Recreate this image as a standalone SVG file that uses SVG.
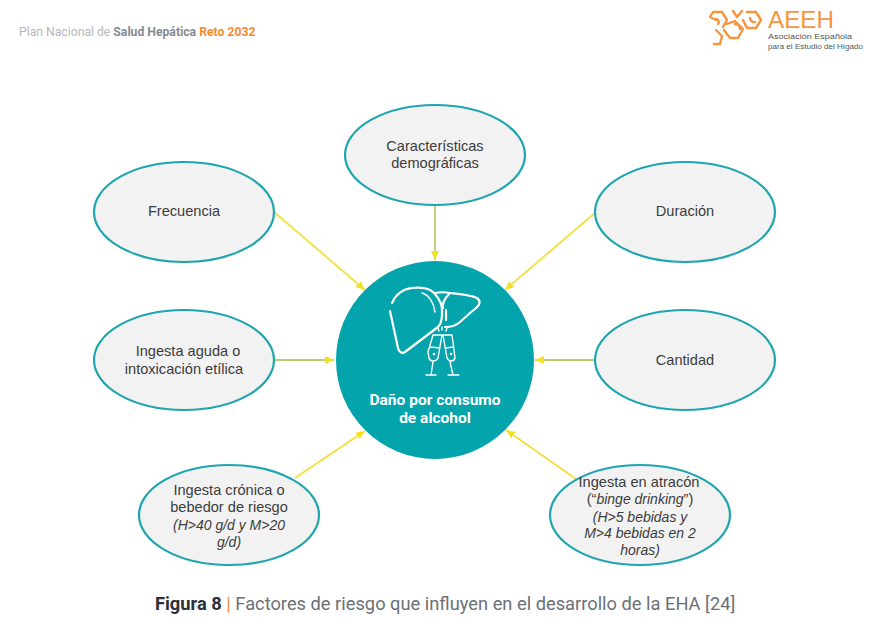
<svg xmlns="http://www.w3.org/2000/svg" width="886" height="618" viewBox="0 0 886 618">
<style>
.n{fill:#f2f2f2;stroke:#1fa5ae;stroke-width:2.2}
.t{font:14.6px "Liberation Sans",Arial,sans-serif;fill:#3c3c3c;text-anchor:middle}
.i{font-style:italic;font-size:14px}
.c line{stroke:#f1e03c;stroke-width:1.8;marker-end:url(#a)}
.c line.g{stroke:#b9cf6a}
.w{fill:none;stroke:#fff;stroke-width:2.2;stroke-linecap:round;stroke-linejoin:round}
.w2{fill:none;stroke:#fff;stroke-width:1.4;stroke-linecap:round;stroke-linejoin:round}
.o{fill:none;stroke:#f7953f;stroke-width:2.4;stroke-linecap:round;stroke-linejoin:round}
.h{font-family:Roboto,"Liberation Sans",sans-serif;font-size:12.2px}
.m{font-family:"Liberation Sans",sans-serif;font-size:7.5px;fill:#555}
.d{font-family:Roboto,"Liberation Sans",sans-serif;font-size:15.5px;font-weight:700;fill:#fff;text-anchor:middle}
</style>
<defs><marker id="a" markerUnits="userSpaceOnUse" markerWidth="10" markerHeight="9" refX="9" refY="4" orient="auto"><path d="M0 0L9 4L0 8z" fill="#f4e021"/></marker></defs>
<rect width="886" height="618" fill="#fff"/>
<g id="header"><text x="19" y="35.5" class="h" fill="#b4b8bd">Plan Nacional de <tspan font-weight="700" fill="#858b94">Salud Hepática</tspan> <tspan font-weight="700" fill="#f58a2e">Reto 2032</tspan></text></g>
<g id="logo">
<path class="o" d="M716 20L710 17L713 12L722 12L727 20L723 27M733 11L737 17L742 11M747 12L756 12L761 20L756 28L747 28L743 20M727 24L735 21L743 29L738 38L730 38L724 30M716 30L722 36L720 44L714 44"/>
<path class="o" d="M716 19a3 3 0 0 1 2 5M735 24a5 5 0 0 1 5 5M750 18a4 4 0 0 0 5 4"/>
<text x="768" y="28" font-family="Liberation Sans,sans-serif" font-size="24" fill="#f7953f" textLength="66" lengthAdjust="spacingAndGlyphs">AEEH</text>
<text x="768" y="39" class="m" textLength="84" lengthAdjust="spacingAndGlyphs">Asociación Española</text>
<text x="768" y="49" class="m" textLength="95" lengthAdjust="spacingAndGlyphs">para el Estudio del Hígado</text>
</g>
<g class="c" id="connectors">
<line x1="274" y1="212" x2="365" y2="290"/>
<line class="g" x1="435" y1="205" x2="435" y2="260"/>
<line x1="596" y1="212" x2="505" y2="290"/>
<line class="g" x1="275" y1="360" x2="334" y2="360"/>
<line class="g" x1="596" y1="360" x2="535" y2="360"/>
<line x1="295" y1="478" x2="365" y2="431"/>
<line x1="576" y1="479" x2="506" y2="430"/>
</g>
<g id="n1"><ellipse class="n" cx="184" cy="212" rx="90" ry="50"/><text class="t" x="184" y="216">Frecuencia</text></g>
<g id="n2"><ellipse class="n" cx="435" cy="155" rx="90" ry="50"/><text class="t" x="435" y="151">Características</text><text class="t" x="435" y="168">demográficas</text></g>
<g id="n3"><ellipse class="n" cx="685" cy="212" rx="90" ry="50"/><text class="t" x="685" y="216">Duración</text></g>
<g id="n4"><ellipse class="n" cx="184" cy="360" rx="90" ry="50"/><text class="t" x="188" y="356">Ingesta aguda o</text><text class="t" x="184" y="374">intoxicación etílica</text></g>
<g id="n5"><ellipse class="n" cx="685" cy="360" rx="90" ry="50"/><text class="t" x="685" y="365">Cantidad</text></g>
<g id="n6"><ellipse class="n" cx="229" cy="515" rx="90" ry="50"/><text class="t" x="229" y="495">Ingesta crónica o</text><text class="t" x="229" y="512">bebedor de riesgo</text><text class="t i" x="229" y="530">(H&gt;40 g/d y M&gt;20</text><text class="t i" x="229" y="547">g/d)</text></g>
<g id="n7"><ellipse class="n" cx="640" cy="515" rx="90" ry="50"/><text class="t" x="639" y="487">Ingesta en atracón</text><text class="t" x="640" y="504">(“<tspan class="i">binge drinking</tspan>”)</text><text class="t i" x="640" y="522">(H&gt;5 bebidas y</text><text class="t i" x="640" y="538">M&gt;4 bebidas en 2</text><text class="t i" x="640" y="555">horas)</text></g>
<g id="center">
<circle cx="435" cy="360" r="99" fill="#04a4ad"/>
<path class="w" d="M392 303C396 294 402 289 412 288C420 287 430 288 434 293C440 299 443 306 442 314C442 320 440 325 438 327L405 352C402 354 399 352 398 348L390 311"/>
<path class="w2" d="M422 293C429 295 434 303 435 312"/>
<path class="w" d="M435 293C440 292 445 292 450 293C458 294 470 295 477 298C481 301 480 305 476 308L470 313L460 322C456 326 450 327 445 327"/>
<path class="w" d="M450 293C445 298 442 303 443 308M446 310L446 320"/>
<path class="w2" d="M433 335L442 335L438 358C436 362 430 362 429 358L428 352L433 335M430 347L440 348M433 362L431 375M426 375L436 375"/>
<path class="w2" d="M443 335L452 335L455 358C454 362 449 362 447 358L443 335M445 348L454 347M450 362L453 375M448 375L459 375"/>
<path class="w2" d="M439 331L438 328M446 331L447 328M442 330L442 327"/>
<circle cx="434" cy="354" r="1.3" fill="#fff"/><circle cx="451" cy="354" r="1.3" fill="#fff"/>
<text x="435" y="405" class="d">Daño por consumo</text>
<text x="435" y="423" class="d">de alcohol</text>
</g>
<g id="caption"><text x="155" y="610" font-family="Roboto,Liberation Sans,sans-serif" font-size="18.3" fill="#6c7076"><tspan font-weight="700" fill="#2c3038">Figura 8</tspan> <tspan fill="#f58a2e">|</tspan> Factores de riesgo que influyen en el desarrollo de la EHA [24]</text></g>
</svg>
